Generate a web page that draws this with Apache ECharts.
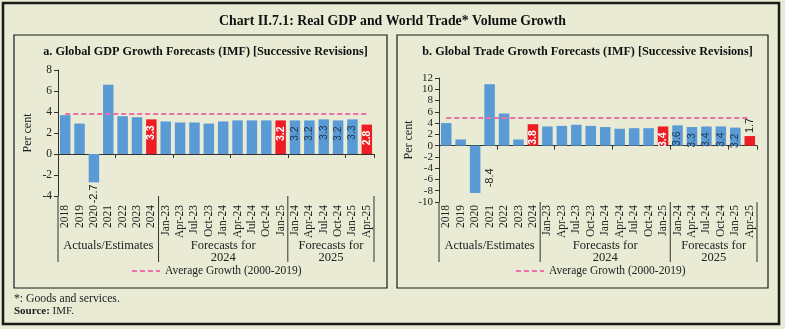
<!DOCTYPE html>
<html>
<head>
<meta charset="utf-8">
<script src="https://cdn.jsdelivr.net/npm/echarts@6/dist/echarts.min.js"></script>
<style>
  html, body { margin: 0; padding: 0; background: #e9ebd5; }
  #chart { width: 785px; height: 329px; }
</style>
</head>
<body>
<div id="chart"></div>
<script>
// Vintages: actual/estimates by year, then successive IMF WEO releases
const categories = ['2018', '2019', '2020', '2021', '2022', '2023', '2024',
  'Jan-23', 'Apr-23', 'Jul-23', 'Oct-23', 'Jan-24', 'Apr-24', 'Jul-24', 'Oct-24', 'Jan-25',
  'Jan-24', 'Apr-24', 'Jul-24', 'Oct-24', 'Jan-25', 'Apr-25'];

// Global real GDP growth (per cent)
const gdpGrowth = [3.7, 2.9, -2.7, 6.6, 3.6, 3.5, 3.3,
  3.1, 3.0, 3.0, 2.9, 3.1, 3.2, 3.2, 3.2, 3.2,
  3.2, 3.2, 3.3, 3.2, 3.3, 2.8];

// World trade volume growth, goods and services (per cent)
const tradeGrowth = [4.0, 1.1, -8.4, 10.9, 5.7, 1.1, 3.8,
  3.4, 3.5, 3.7, 3.5, 3.3, 3.0, 3.1, 3.1, 3.4,
  3.6, 3.3, 3.4, 3.4, 3.2, 1.7];

// Long-run averages, 2000-2019
const gdpAverage = 3.8;
const tradeAverage = 4.9;

// Latest estimate in each block is shown in red
const highlighted = [6, 15, 21];
// Bars carrying a value label
const gdpLabelled = [2, 6, 15, 16, 17, 18, 19, 20, 21];
const tradeLabelled = [2, 6, 15, 16, 17, 18, 19, 20, 21];

const groups = [
  { name: 'Actuals/Estimates', from: 0, to: 6 },
  { name: 'Forecasts for\n2024', from: 7, to: 15 },
  { name: 'Forecasts for\n2025', from: 16, to: 21 }
];

const yTicksGdp = { min: -4, max: 8, interval: 2 };
const yTicksTrade = { min: -10, max: 12, interval: 2 };

const AVG_NAME = 'Average Growth (2000-2019)';
const BLUE = '#5b9bd5';
const RED = '#ee1c25';
const PINK = '#ef6fa8';
const INK = '#222';
const SERIF = '"Liberation Serif", "DejaVu Serif", serif';
const SANS = '"Liberation Sans", Arial, sans-serif';

const chart = echarts.init(document.getElementById('chart'), null, { renderer: 'canvas' });

function barItems(values, labelled, panel) {
  return values.map((v, i) => {
    const red = highlighted.includes(i);
    const item = { value: v, itemStyle: { color: red ? RED : BLUE } };
    if (!labelled.includes(i)) return item;
    const base = { show: true, rotate: 90, fontFamily: SANS, fontSize: 10.5, formatter: p => p.value.toFixed(1) };
    if (v < 0) {
      if (panel === 'trade') {
        item.label = Object.assign(base, { position: ['140%', '68%'], align: 'center', verticalAlign: 'top', color: INK, fontSize: 11 });
      } else {
        item.label = Object.assign(base, { position: 'bottom', align: 'right', verticalAlign: 'middle', color: INK, distance: 2, fontSize: 11 });
      }
    } else if (v < 2.5) {
      item.label = Object.assign(base, { position: 'top', align: 'left', verticalAlign: 'middle', color: INK, distance: 3, fontSize: 11 });
    } else {
      item.label = Object.assign(base, {
        position: 'insideTop', align: 'right', verticalAlign: 'middle', distance: 6,
        color: red ? '#fff' : '#1d3550', fontWeight: red ? 'bold' : 'normal'
      });
    }
    return item;
  });
}

function panelAxes(gridIndex, labelMargin) {
  return [
    {
      gridIndex, type: 'category', data: categories, position: 'bottom',
      axisLine: { show: false, onZero: false }, axisTick: { show: false },
      axisLabel: { interval: 0, rotate: 90, margin: labelMargin, fontFamily: SERIF, fontSize: 11.5, color: INK }
    },
    {
      gridIndex, type: 'category', data: categories, position: 'bottom',
      axisLine: { show: true, onZero: true, lineStyle: { color: '#333', width: 1 } },
      axisTick: { show: true, length: 4, lineStyle: { color: '#333' } },
      axisLabel: { show: false }
    }
  ];
}

function valueAxis(gridIndex, ticks, nameGap, fontSize) {
  return {
    gridIndex, type: 'value', min: ticks.min, max: ticks.max, interval: ticks.interval,
    name: 'Per cent', nameLocation: 'middle', nameGap, nameRotate: 90,
    nameTextStyle: { fontFamily: SERIF, fontSize: 12, color: INK },
    axisLine: { show: true, lineStyle: { color: '#333' } },
    axisTick: { show: true, length: 4, lineStyle: { color: '#333' } },
    axisLabel: { fontFamily: SERIF, fontSize, color: INK, margin: 6,
      showMinLabel: true, showMaxLabel: true, hideOverlap: false },
    splitLine: { show: false }
  };
}

function avgSeries(value, xIdx, yIdx) {
  return {
    name: AVG_NAME, type: 'line', xAxisIndex: xIdx, yAxisIndex: yIdx,
    data: categories.map(() => value), symbol: 'none', silent: true,
    lineStyle: { color: PINK, type: [5, 3], width: 2 }, itemStyle: { color: PINK }, z: 5
  };
}

const legendBase = {
  data: [AVG_NAME], top: 265, padding: 0, itemWidth: 28, itemHeight: 8, itemGap: 4,
  itemStyle: { opacity: 0 },
  textStyle: { fontFamily: SERIF, fontSize: 11.5, color: INK }
};

const grids = [
  { left: 58, width: 316, top: 70, height: 126 },
  { left: 439, width: 318, top: 78, height: 124 }
];

const option = {
  backgroundColor: '#e9ebd5',
  animation: false,
  textStyle: { fontFamily: SERIF },
  title: [
    { text: 'Chart II.7.1: Real GDP and World Trade* Volume Growth', left: 'center', top: 9,
      textStyle: { fontFamily: SERIF, fontSize: 13.8, fontWeight: 'bold', color: '#111' } },
    { text: 'a. Global GDP Growth Forecasts (IMF) [Successive Revisions]', left: 200.5, textAlign: 'center', top: 41,
      textStyle: { fontFamily: SERIF, fontSize: 12.2, fontWeight: 'bold', color: '#111' } },
    { text: 'b. Global Trade Growth Forecasts (IMF) [Successive Revisions]', left: 582.5, textAlign: 'center', top: 41,
      textStyle: { fontFamily: SERIF, fontSize: 12.2, fontWeight: 'bold', color: '#111' } }
  ],
  legend: [
    Object.assign({ left: 131 }, legendBase),
    Object.assign({ left: 515 }, legendBase)
  ],
  grid: grids,
  xAxis: [...panelAxes(0, 9), ...panelAxes(1, 3)],
  yAxis: [valueAxis(0, yTicksGdp, 24, 11.5), valueAxis(1, yTicksTrade, 24, 11)],
  series: [
    { name: 'GDP', type: 'bar', xAxisIndex: 0, yAxisIndex: 0, barCategoryGap: '27%',
      data: barItems(gdpGrowth, gdpLabelled, 'gdp') },
    avgSeries(gdpAverage, 0, 0),
    { name: 'Trade', type: 'bar', xAxisIndex: 2, yAxisIndex: 1, barCategoryGap: '27%',
      data: barItems(tradeGrowth, tradeLabelled, 'trade') },
    avgSeries(tradeAverage, 2, 1)
  ]
};

chart.setOption(option);

// Frames, block separators, block captions and notes
function decorations() {
  const els = [
    { type: 'rect', shape: { x: 3, y: 3, width: 776, height: 321 }, style: { fill: 'none', stroke: '#1a1a1a', lineWidth: 2.5 }, silent: true },
    { type: 'rect', shape: { x: 14, y: 35, width: 373, height: 253 }, style: { fill: 'none', stroke: '#1a1a1a', lineWidth: 1.2 }, silent: true },
    { type: 'rect', shape: { x: 397, y: 35, width: 371, height: 253 }, style: { fill: 'none', stroke: '#1a1a1a', lineWidth: 1.2 }, silent: true },
    { type: 'text', x: 14, y: 293, style: { text: '*: Goods and services.', fontFamily: SERIF, fontSize: 11.7, fill: INK }, silent: true },
    { type: 'text', x: 14, y: 306, style: {
        text: '{b|Source:} IMF.', fontFamily: SERIF, fontSize: 11, fill: INK,
        rich: { b: { fontWeight: 'bold', fontFamily: SERIF, fontSize: 11, fill: INK } } }, silent: true }
  ];
  [[0, 0], [2, 1]].forEach(([xIdx, yIdx]) => {
    const c0 = chart.convertToPixel({ xAxisIndex: xIdx }, 0);
    const c1 = chart.convertToPixel({ xAxisIndex: xIdx }, 1);
    const bw = c1 - c0;
    const edge = i => c0 + (i - 0.5) * bw;
    const yBottom = chart.convertToPixel({ yAxisIndex: yIdx }, yIdx === 0 ? yTicksGdp.min : yTicksTrade.min);
    [0, 7, 16, 22].forEach(i => {
      els.push({ type: 'line', shape: { x1: edge(i), y1: yBottom, x2: edge(i), y2: 262 },
        style: { stroke: '#333', lineWidth: 1 }, silent: true });
    });
    groups.forEach(g => {
      els.push({ type: 'text', x: (edge(g.from) + edge(g.to + 1)) / 2, y: 240,
        style: { text: g.name, align: 'center', verticalAlign: 'top', fontFamily: SERIF, fontSize: 12.5,
          lineHeight: 12, fill: INK }, silent: true });
    });
  });
  chart.setOption({ graphic: els });
}
decorations();
</script>
</body>
</html>
